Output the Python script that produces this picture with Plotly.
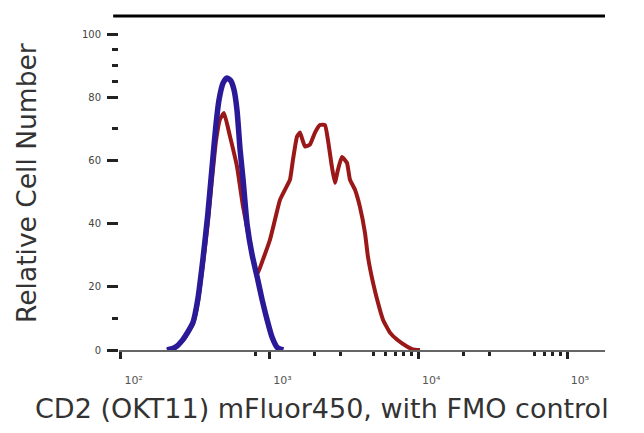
import plotly.graph_objects as go

# Fluorescence intensity (linear units, log axis) and relative cell number
fmo_x = [205, 232, 262, 306, 330, 357, 385, 410, 437, 458, 488, 519, 552, 578,
         605, 635, 665, 708, 764, 826, 893, 964, 1042, 1127, 1239]
fmo_y = [0, 0.8, 3.3, 8.7, 16.0, 28.6, 42.8, 57.0, 71.2, 79.1, 84.5, 86.1, 85.1,
         82.3, 76.0, 63.4, 53.9, 39.7, 30.2, 23.2, 15.9, 9.6, 4.0, 0.8, 0]

cd2_x = [205, 232, 262, 306, 330, 357, 386, 411, 437, 465, 495, 543, 605, 664,
         740, 824, 904, 1007, 1089, 1177, 1271, 1374, 1439, 1531, 1603, 1733,
         1871, 2023, 2183, 2360, 2472, 2630, 2754, 2884, 3069, 3319, 3475, 3758,
         4055, 4385, 4592, 4966, 5358, 5794, 6457, 7194, 8395, 9204, 10257]
cd2_y = [0, 0.7, 3.0, 8.2, 15.0, 27.0, 40.5, 54.0, 66.0, 73.0, 75.0, 67.6, 58.1,
         45.5, 33.8, 23.7, 28.6, 34.8, 41.2, 47.5, 50.7, 53.9, 60.2, 67.5, 68.8,
         64.4, 65.0, 68.8, 71.2, 71.2, 66.5, 57.9, 52.9, 57.0, 61.1, 59.2, 53.9,
         50.7, 45.3, 37.1, 29.5, 21.3, 15.0, 9.6, 5.5, 3.3, 1.1, 0.2, 0]

x_tickvals = [100, 1000, 10000, 100000]
x_ticktext = ["10²", "10³", "10⁴", "10⁵"]
x_minor = [800, 2000, 3000, 5000, 6000, 7000, 8000, 9000,
           20000, 30000, 60000, 70000, 80000, 90000]
y_tickvals = [0, 20, 40, 60, 80, 100]
y_minor = [10, 70, 85, 90, 95]

x_title = "CD2 (OKT11) mFluor450, with FMO control"
y_title = "Relative Cell Number"

fig = go.Figure()
fig.add_trace(go.Scatter(x=cd2_x, y=cd2_y, mode="lines",
                         line=dict(color="#9a1818", width=4, shape="spline", smoothing=0.4),
                         showlegend=False))
fig.add_trace(go.Scatter(x=fmo_x, y=fmo_y, mode="lines",
                         line=dict(color="#2a1a98", width=5.5, shape="spline", smoothing=0.6),
                         showlegend=False))

# page body has an 8px default margin, so the figure is sized/offset to fit the window
fig.update_layout(
    width=636, height=425,
    margin=dict(l=111, r=39, t=8, b=82.5),
    paper_bgcolor="white", plot_bgcolor="white",
    font=dict(family="DejaVu Sans", color="#333"),
    xaxis=dict(type="log", range=[1.989, 5.255], showgrid=False, zeroline=False,
               showline=True, linecolor="#666", linewidth=1.5,
               ticks="outside", ticklen=7, tickwidth=2.5, tickcolor="#222",
               tickvals=x_tickvals, ticktext=x_ticktext,
               tickfont=dict(size=11, color="#555"),
               ticklabelshift=13, ticklabelstandoff=12,
               minor=dict(tickvals=x_minor, ticks="outside", ticklen=4,
                          tickwidth=2.5, tickcolor="#222")),
    yaxis=dict(range=[0, 105.7], showgrid=False, zeroline=False, showline=False,
               ticks="outside", ticklen=11, tickwidth=2.5, tickcolor="#222",
               tickvals=y_tickvals, tickfont=dict(size=10, color="#444"),
               ticklabelstandoff=4,
               minor=dict(tickvals=y_minor, ticks="outside", ticklen=6,
                          tickwidth=2.5, tickcolor="#222")),
    shapes=[dict(type="line", xref="paper", yref="paper", x0=-0.012, x1=1,
                 y0=1, y1=1, line=dict(color="black", width=3))],
    annotations=[
        dict(text=x_title, xref="paper", yref="paper", x=0.5, y=0,
             xanchor="center", yanchor="middle", xshift=-40.5, yshift=-58,
             showarrow=False, font=dict(size=27, color="#333", family="DejaVu Sans")),
        dict(text=y_title, xref="paper", yref="paper", x=0, y=0.5,
             xanchor="center", yanchor="middle", xshift=-93, textangle=-90,
             showarrow=False, font=dict(size=26.5, color="#333", family="DejaVu Sans")),
    ],
)

fig.write_html("out.html")
